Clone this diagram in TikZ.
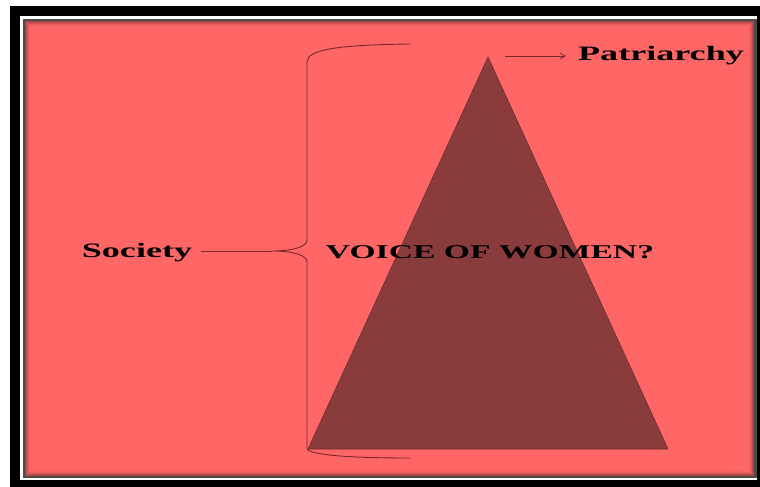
\documentclass[tikz,border=0pt]{standalone}
\usepackage{fontspec}
\setmainfont{Liberation Serif}
\usetikzlibrary{arrows.meta}

\definecolor{salmon}{RGB}{255,103,103}
\definecolor{maroon}{RGB}{138,59,60}
\definecolor{braceline}{RGB}{120,40,40}

\tikzset{
  label/.style={font=\bfseries\fontsize{20.5}{22}\selectfont, xscale=1.76, inner sep=0pt, anchor=base},
  brace/.style={draw=braceline, line width=0.9pt},
}

\begin{document}
\begin{tikzpicture}[x=1pt, y=-1pt]
\useasboundingbox (0,0) rectangle (760,487);

% frame
\fill[black] (10,6) rectangle (760,487);
\fill[white] (20,16) rectangle (757,480);
\fill[black!70] (23,19) rectangle (757,478);
\fill[salmon] (25,21) rectangle (754,476);
\foreach \i/\o in {0/0.35,1/0.25,2/0.16,3/0.09,4/0.04}
  \draw[black, opacity=\o, line width=1pt] (25.5+\i,21.5+\i) rectangle (753.5-\i,475.5-\i);

% triangle
\coordinate (apex) at (488,57);
\coordinate (bl) at (308,449);
\coordinate (br) at (668,449);
\fill[maroon, draw=maroon!80!black, line width=0.6pt] (apex) -- (br) -- (bl) -- cycle;

% labels
\node[label] (patri) at (661,61) {Patriarchy};
\node[label] (soc) at (137,257) {Society};
\node[label, font=\bfseries\fontsize{19.5}{21}\selectfont, xscale=0.98] (voice) at (490,258) {VOICE OF WOMEN?};

% brace
\coordinate (cusp) at (272,251);
\draw[brace] (410,44) .. controls (340,45) and (307,49) .. (307,62)
  -- (307,240) .. controls (307,247) and (292,251) .. (cusp)
  .. controls (292,251) and (307,255) .. (307,262)
  -- (307,449) .. controls (312,456) and (360,458) .. (410,458);
\coordinate (socend) at ([xshift=9pt]soc.east |- cusp);
\draw[brace] (socend) -- (cusp);

% arrow
\coordinate (tip) at (505,56);
\draw[braceline, line width=0.8pt, -{Straight Barb[length=5pt,width=6pt]}, shorten >=12pt] (tip) -- (patri.west |- tip);
\end{tikzpicture}
\end{document}
